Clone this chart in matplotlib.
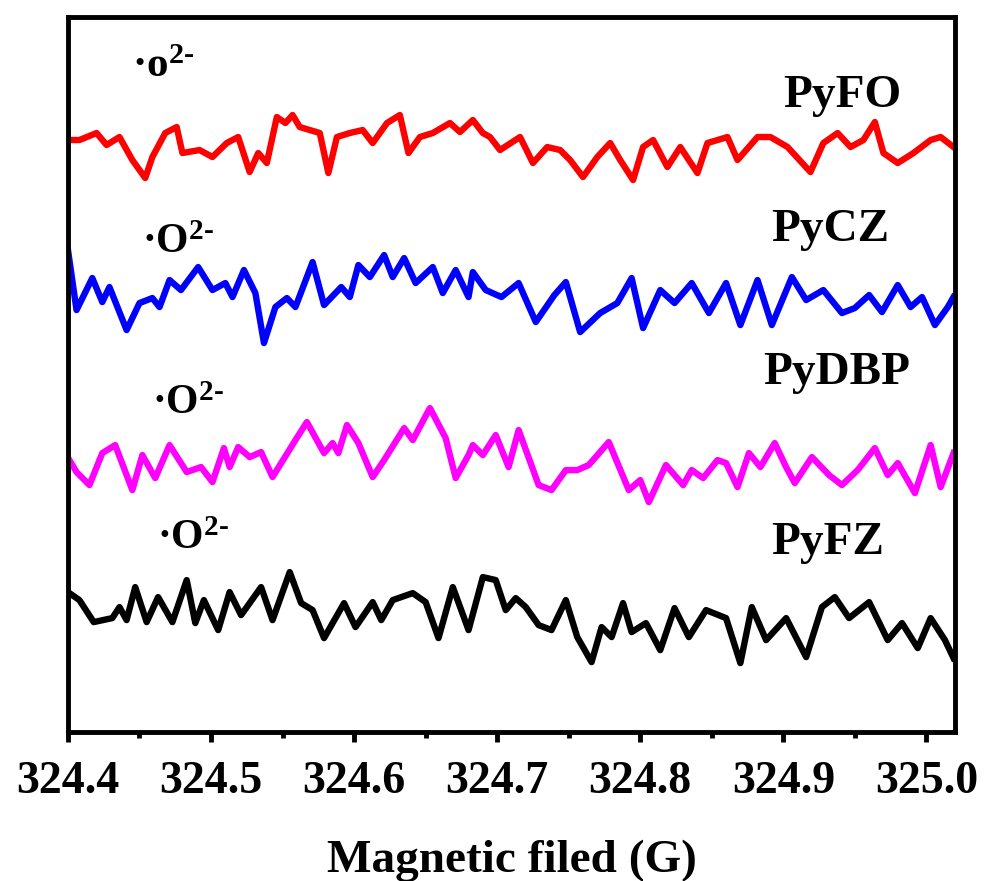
import matplotlib
matplotlib.use('Agg')
import matplotlib.pyplot as plt
from matplotlib.ticker import MultipleLocator, FormatStrFormatter

##### FONTS (Times-like bold) #####
plt.rcParams['font.family'] = ['Liberation Serif', 'DejaVu Serif']
plt.rcParams['font.weight'] = 'bold'
plt.rcParams['mathtext.fontset'] = 'custom'
plt.rcParams['mathtext.rm'] = 'Liberation Serif:bold'
plt.rcParams['mathtext.bf'] = 'Liberation Serif:bold'
plt.rcParams['mathtext.it'] = 'Liberation Serif:bold:italic'

##### DATA (intensity in a.u., traces already stacked) #####
pyfo_x = [324.400, 324.408, 324.420, 324.427, 324.436, 324.445, 324.454, 324.459, 324.468, 324.476,
          324.480, 324.492, 324.501, 324.511, 324.519, 324.527, 324.533, 324.539, 324.546, 324.552,
          324.557, 324.562, 324.569, 324.576, 324.582, 324.588, 324.597, 324.606, 324.613, 324.623,
          324.632, 324.638, 324.646, 324.655, 324.667, 324.674, 324.683, 324.690, 324.695, 324.702,
          324.716, 324.725, 324.735, 324.744, 324.751, 324.760, 324.770, 324.779, 324.786, 324.795,
          324.802, 324.809, 324.819, 324.828, 324.840, 324.847, 324.861, 324.868, 324.882, 324.891,
          324.903, 324.919, 324.928, 324.938, 324.947, 324.956, 324.964, 324.970, 324.980, 324.991,
          325.003, 325.010, 325.019]
pyfo_y = [592, 592, 599, 587, 595, 572, 554, 575, 599, 605,
          579, 582, 575, 589, 595, 560, 579, 569, 615, 609,
          617, 605, 602, 599, 559, 595, 599, 602, 589, 609,
          617, 579, 595, 599, 609, 600, 612, 599, 595, 582,
          595, 569, 585, 582, 572, 555, 575, 589, 572, 552,
          585, 592, 565, 585, 559, 589, 595, 572, 595, 595,
          585, 560, 589, 599, 585, 592, 610, 579, 569, 579,
          592, 595, 585]

pycz_x = [324.400, 324.406, 324.417, 324.424, 324.429, 324.441, 324.450, 324.459, 324.464, 324.471,
          324.479, 324.491, 324.501, 324.510, 324.515, 324.523, 324.531, 324.537, 324.545, 324.553,
          324.559, 324.571, 324.579, 324.591, 324.597, 324.603, 324.611, 324.621, 324.627, 324.635,
          324.643, 324.655, 324.662, 324.671, 324.680, 324.683, 324.692, 324.703, 324.715, 324.727,
          324.740, 324.748, 324.758, 324.772, 324.784, 324.794, 324.802, 324.814, 324.824, 324.836,
          324.848, 324.860, 324.870, 324.882, 324.892, 324.906, 324.916, 324.928, 324.941, 324.950,
          324.960, 324.969, 324.980, 324.989, 324.997, 325.006, 325.015, 325.019]
pycz_y = [482, 422, 454, 430, 445, 402, 429, 434, 425, 452,
          442, 465, 442, 449, 435, 462, 439, 389, 425, 434,
          425, 470, 427, 445, 435, 467, 455, 477, 455, 474,
          449, 465, 439, 462, 435, 460, 442, 435, 449, 410,
          437, 450, 400, 419, 429, 454, 404, 442, 429, 449,
          419, 449, 407, 452, 407, 455, 432, 442, 419, 424,
          437, 420, 447, 425, 435, 407, 425, 435]

pydbp_x = [324.401, 324.406, 324.415, 324.424, 324.433, 324.445, 324.452, 324.461, 324.471, 324.483,
           324.493, 324.501, 324.509, 324.513, 324.519, 324.527, 324.535, 324.543, 324.559, 324.567,
           324.579, 324.585, 324.589, 324.595, 324.603, 324.613, 324.621, 324.635, 324.641, 324.653,
           324.664, 324.671, 324.680, 324.683, 324.690, 324.699, 324.708, 324.715, 324.729, 324.738,
           324.748, 324.756, 324.764, 324.778, 324.792, 324.800, 324.806, 324.818, 324.830, 324.836,
           324.844, 324.854, 324.860, 324.868, 324.876, 324.884, 324.894, 324.902, 324.908, 324.920,
           324.932, 324.941, 324.952, 324.964, 324.973, 324.980, 324.992, 325.003, 325.010, 325.019]
pydbp_y = [272, 260, 247, 279, 287, 242, 277, 254, 287, 260,
           265, 250, 284, 265, 285, 275, 280, 255, 292, 310,
           279, 289, 279, 307, 289, 255, 272, 304, 292, 324,
           294, 254, 277, 287, 277, 297, 265, 302, 247, 242,
           262, 262, 267, 290, 242, 252, 230, 267, 247, 262,
           254, 272, 269, 245, 279, 265, 289, 265, 249, 275,
           257, 247, 262, 284, 257, 269, 239, 287, 245, 279]

pyfz_x = [324.401, 324.408, 324.418, 324.431, 324.436, 324.441, 324.447, 324.455, 324.463, 324.473,
          324.483, 324.489, 324.495, 324.505, 324.513, 324.521, 324.527, 324.535, 324.543, 324.555,
          324.563, 324.571, 324.579, 324.593, 324.601, 324.613, 324.619, 324.627, 324.641, 324.650,
          324.659, 324.669, 324.680, 324.690, 324.699, 324.706, 324.713, 324.720, 324.729, 324.738,
          324.748, 324.756, 324.766, 324.773, 324.780, 324.788, 324.794, 324.804, 324.814, 324.824,
          324.834, 324.846, 324.860, 324.870, 324.878, 324.888, 324.902, 324.916, 324.927, 324.936,
          324.946, 324.960, 324.973, 324.983, 324.994, 325.003, 325.013, 325.019]
pyfz_y = [139, 132, 110, 114, 125, 112, 145, 110, 135, 110,
          152, 109, 132, 102, 140, 117, 129, 145, 112, 160,
          129, 122, 94, 129, 105, 130, 112, 132, 139, 130,
          94, 145, 102, 155, 152, 122, 134, 125, 107, 102,
          132, 95, 70, 105, 95, 129, 100, 109, 82, 124,
          95, 122, 114, 69, 125, 92, 114, 75, 125, 135,
          114, 130, 92, 109, 84, 114, 92, 74]

names = ['PyFO', 'PyCZ', 'PyDBP', 'PyFZ']
colors = ['#ff0000', '#0000ff', '#ff00ff', '#000000']
xs = [pyfo_x, pycz_x, pydbp_x, pyfz_x]
ys = [pyfo_y, pycz_y, pydbp_y, pyfz_y]

# label positions (field, a.u.)
name_pos = [(324.941, 636), (324.933, 502), (324.937, 359), (324.931, 189)]
rad_pos = [(324.445, 665), (324.452, 489), (324.459, 328), (324.462, 193)]
rad_txt = ['\u00b7o$^{2\\text{-}}$', '\u00b7O$^{2\\text{-}}$', '\u00b7O$^{2\\text{-}}$', '\u00b7O$^{2\\text{-}}$']

##### PLOT #####
fig = plt.figure(figsize=(9.85, 8.81), dpi=100)
ax = fig.add_axes([0.069, 0.169, 0.9005, 0.8117])

for x, y, c in zip(xs, ys, colors):
    ax.plot(x, y, color=c, lw=4.6, solid_joinstyle='round')

for n, (px, py) in zip(names, name_pos):
    ax.text(px, py, n, fontsize=34, fontweight='bold', ha='center', va='center')
for i, (t, (px, py)) in enumerate(zip(rad_txt, rad_pos)):
    fs = 31 if i == 0 else 30
    ax.text(px, py, t, fontsize=fs, fontweight='bold', ha='left', va='center')

ax.set_xlim(324.4, 325.02)
ax.set_ylim(0, 715)
ax.set_yticks([])
ax.xaxis.set_major_locator(MultipleLocator(0.1))
ax.xaxis.set_minor_locator(MultipleLocator(0.05))
ax.xaxis.set_major_formatter(FormatStrFormatter('%.1f'))
ax.tick_params(axis='x', which='major', direction='out', length=7, width=3.5, labelsize=33, pad=14)
ax.tick_params(axis='x', which='minor', direction='out', length=4, width=3.5)
for s in ax.spines.values():
    s.set_linewidth(3.5)
for lab in ax.get_xticklabels():
    lab.set_fontweight('bold')

ax.set_xlabel('Magnetic filed (G)', fontsize=34, fontweight='bold', labelpad=26)

plt.savefig('out.png', dpi=100)
